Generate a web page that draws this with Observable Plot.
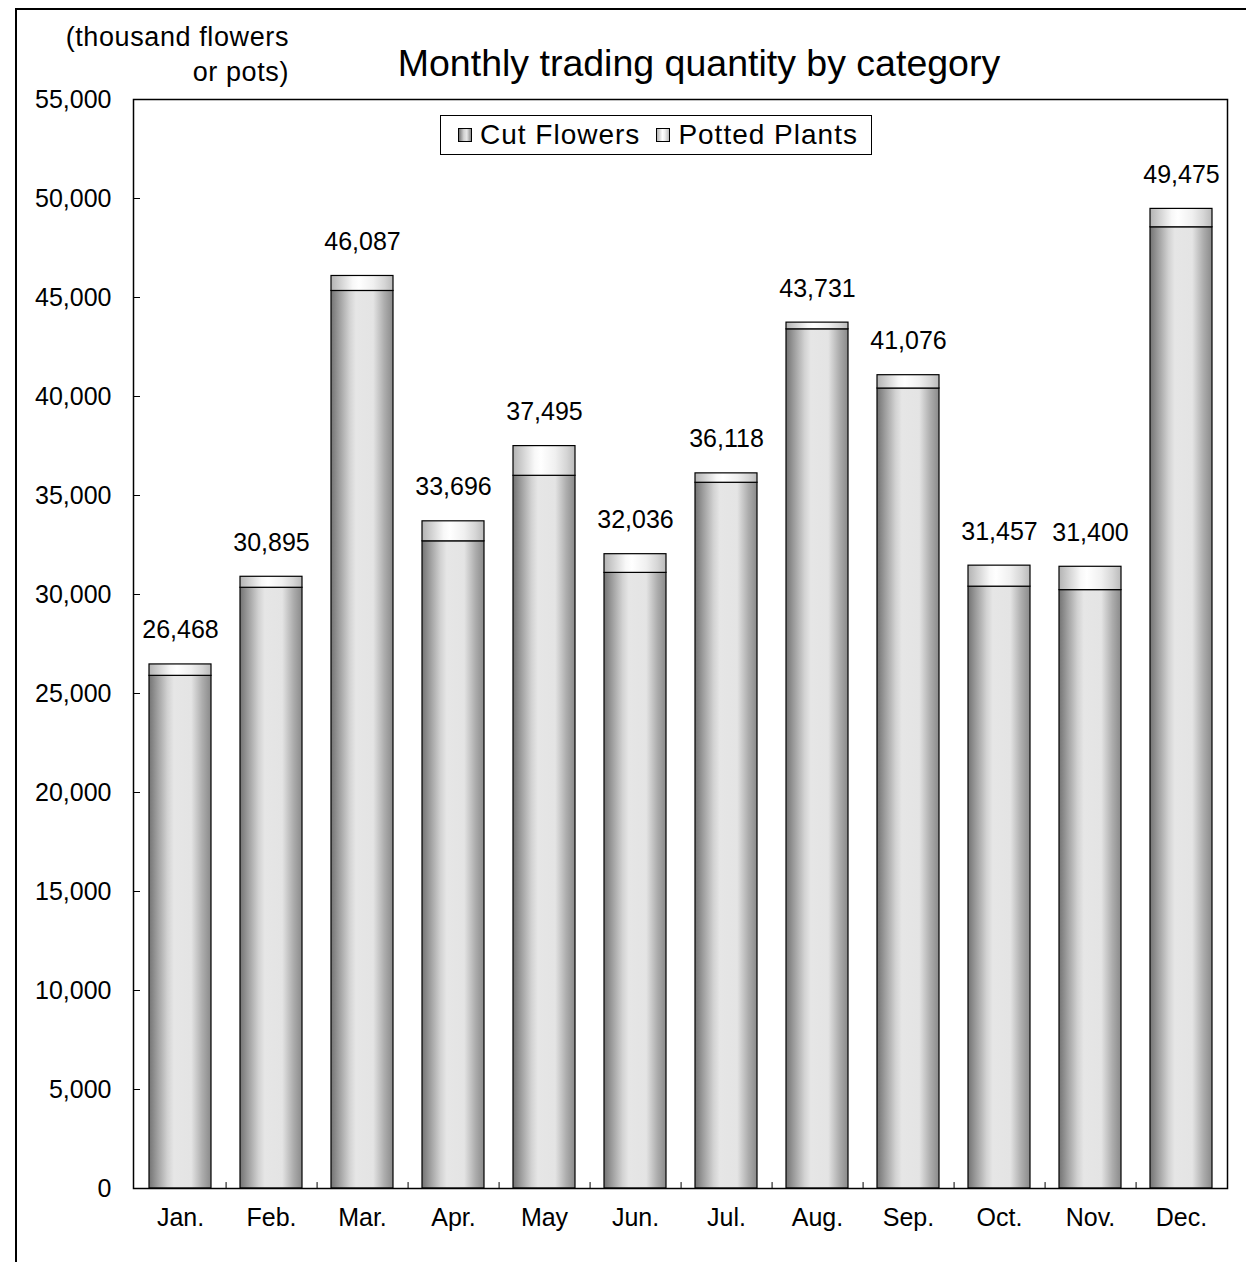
<!DOCTYPE html>
<html>
<head>
<meta charset="utf-8">
<script src="https://cdn.jsdelivr.net/npm/d3@7"></script>
<script src="https://cdn.jsdelivr.net/npm/@observablehq/plot@0.6"></script>
<style>
  html, body { margin: 0; padding: 0; background: #fff; }
  body { width: 1246px; height: 1262px; position: relative; overflow: hidden; font-family: "Liberation Sans", Arial, sans-serif; }
  #border { position: absolute; left: 15px; top: 8px; width: 1400px; height: 1400px; border-left: 2px solid #000; border-top: 2px solid #000; box-sizing: border-box; }
  #chart { position: absolute; left: 0; top: 0; }
  #title { position: absolute; left: 0; width: 1398px; top: 42px; text-align: center; font-size: 37.5px; color: #000; white-space: nowrap; }
  #unit { position: absolute; left: 20px; width: 269px; top: 20px; text-align: right; font-size: 27px; letter-spacing: 0.6px; line-height: 35px; color: #000; }
  #legend { position: absolute; left: 440px; top: 115px; width: 432px; height: 40px; border: 1px solid #000; box-sizing: border-box; background: #fff; display: flex; align-items: center; padding-left: 17px; font-size: 28px; letter-spacing: 1px; color: #000; white-space: nowrap; overflow: visible; }
  .sw { display: inline-block; flex: 0 0 auto; width: 12px; height: 12px; border: 1px solid #000; margin-right: 8px; }
  .item { display: flex; flex: 0 0 auto; align-items: center; margin-right: 16px; white-space: nowrap; }
</style>
</head>
<body>
<div id="border"></div>
<div id="chart"></div>
<div id="title">Monthly trading quantity by category</div>
<div id="unit">(thousand flowers<br>or pots)</div>
<div id="legend"></div>
<script>
const months = ["Jan.", "Feb.", "Mar.", "Apr.", "May", "Jun.", "Jul.", "Aug.", "Sep.", "Oct.", "Nov.", "Dec."];
const cutFlowers   = [25892, 30340, 45330, 32686, 35995, 31092, 35643, 43393, 40403, 30396, 30222, 48546];
const pottedPlants = [576, 555, 757, 1010, 1500, 944, 475, 338, 673, 1061, 1178, 929];
const totals       = [26468, 30895, 46087, 33696, 37495, 32036, 36118, 43731, 41076, 31457, 31400, 49475];
const seriesNames  = ["Cut Flowers", "Potted Plants"];
const yTicks = d3.range(0, 55001, 5000);

const rows = months.map((m, i) => ({
  month: m,
  cut: cutFlowers[i],
  potted: pottedPlants[i],
  base: cutFlowers[i],
  top: cutFlowers[i] + pottedPlants[i],
  total: totals[i]
}));

const W = 1246, H = 1262;
const mL = 133, mR = 19, mT = 99, mB = 74;
const step = (W - mL - mR) / months.length;

const chart = Plot.plot({
  width: W,
  height: H,
  marginLeft: mL,
  marginRight: mR,
  marginTop: mT,
  marginBottom: mB,
  style: { fontFamily: "'Liberation Sans', Arial, sans-serif", color: "#000", background: "transparent", overflow: "visible" },
  x: { domain: months, type: "band", paddingInner: 0.32, paddingOuter: 0.16, label: null },
  y: { domain: [0, 55000], label: null },
  marks: [
    Plot.barY(rows, { x: "month", y1: 0, y2: "cut", fill: "url(#gCut)", stroke: "#000", strokeWidth: 1.2 }),
    Plot.barY(rows, { x: "month", y1: "base", y2: "top", fill: "url(#gPot)", stroke: "#000", strokeWidth: 1.2 }),
    Plot.ruleX(months.slice(0, -1), { x: d => d, y1: 0, y2: 300, dx: step / 2, stroke: "#000", strokeWidth: 1 }),
    Plot.axisY({ ticks: yTicks, tickFormat: d3.format(","), tickSize: 0, tickPadding: 22, fontSize: 25 }),
    Plot.axisY({ ticks: yTicks, tickFormat: () => "", tickSize: 7, dx: 7, stroke: "#000" }),
    Plot.axisX({ tickSize: 0, tickPadding: 20, fontSize: 25 }),
    Plot.text(rows, { x: "month", y: "total", text: d => d3.format(",")(d.total), dy: -26, lineAnchor: "bottom", fontSize: 25, fill: "#000" }),
    Plot.frame({ stroke: "#000", strokeWidth: 1.5 })
  ]
});

const defs = document.createElementNS("http://www.w3.org/2000/svg", "defs");
defs.innerHTML = `
<linearGradient id="gCut" x1="0" x2="1" y1="0" y2="0">
  <stop offset="0" stop-color="#737373"/>
  <stop offset="0.12" stop-color="#9a9a9a"/>
  <stop offset="0.3" stop-color="#d2d2d2"/>
  <stop offset="0.4" stop-color="#e6e6e6"/>
  <stop offset="0.68" stop-color="#e4e4e4"/>
  <stop offset="0.86" stop-color="#adadad"/>
  <stop offset="1" stop-color="#8a8a8a"/>
</linearGradient>
<linearGradient id="gPot" x1="0" x2="1" y1="0" y2="0">
  <stop offset="0" stop-color="#b3b3b3"/>
  <stop offset="0.35" stop-color="#f8f8f8"/>
  <stop offset="0.45" stop-color="#ffffff"/>
  <stop offset="0.68" stop-color="#f0f0f0"/>
  <stop offset="0.86" stop-color="#d6d6d6"/>
  <stop offset="1" stop-color="#bababa"/>
</linearGradient>`;
chart.insertBefore(defs, chart.firstChild);
document.getElementById("chart").appendChild(chart);

const swatchCss = {
  "Cut Flowers": "linear-gradient(to right, #737373, #d2d2d2 40%, #e6e6e6 65%, #8a8a8a)",
  "Potted Plants": "linear-gradient(to right, #b3b3b3, #ffffff 45%, #f0f0f0 65%, #bababa)"
};
const legend = document.getElementById("legend");
seriesNames.forEach(name => {
  const item = document.createElement("span");
  item.className = "item";
  const sw = document.createElement("span");
  sw.className = "sw";
  sw.style.background = swatchCss[name];
  item.appendChild(sw);
  const label = document.createElement("span");
  label.textContent = name;
  item.appendChild(label);
  legend.appendChild(item);
});
</script>
</body>
</html>
